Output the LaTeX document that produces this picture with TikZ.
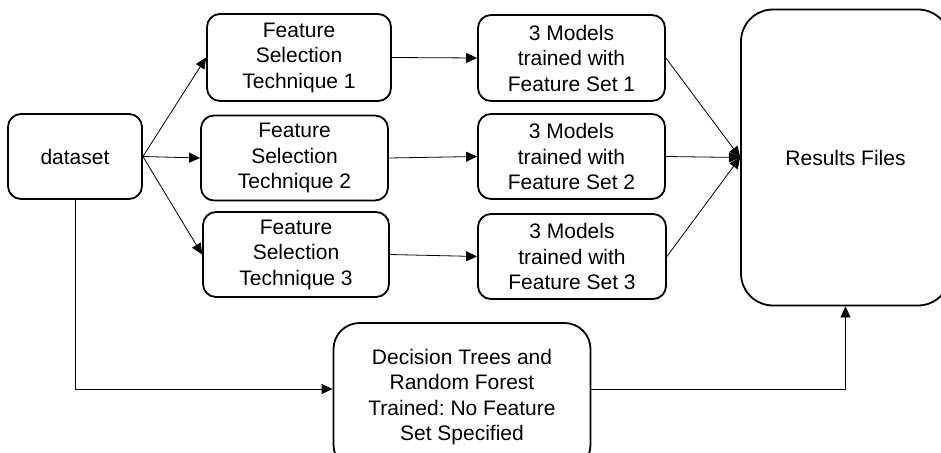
\documentclass[tikz,border=0pt]{standalone}
\usepackage{fontspec}
\setmainfont{Liberation Sans}
\usetikzlibrary{arrows.meta}
\frenchspacing

\begin{document}
\begin{tikzpicture}[line cap=round,line join=round,x=1pt,y=-1pt,
	box/.style={draw=black,line width=1.8pt,rounded corners=13pt,align=center,inner sep=0pt,font=\fontsize{21}{25.5}\selectfont},
	link/.style={line width=0.8pt,-{Triangle[length=11pt,width=10pt]}}]
	\useasboundingbox (0,0) rectangle (941,452);
	\node[box,minimum width=134pt,minimum height=85pt] (data) at (75,156.5) {dataset};
	\node[box,minimum width=184pt,minimum height=87pt] (fs1) at (299,57.5) {Feature\\Selection\\Technique 1};
	\node[box,minimum width=187pt,minimum height=85pt] (fs2) at (294.5,158) {Feature\\Selection\\Technique 2};
	\node[box,minimum width=186pt,minimum height=85pt] (fs3) at (296,254.5) {Feature\\Selection\\Technique 3};
	\node[box,minimum width=187pt,minimum height=86pt] (ms1) at (571.5,58) {3 Models\\trained with\\Feature Set 1};
	\node[box,minimum width=187pt,minimum height=85pt] (ms2) at (571.5,156.5) {3 Models\\trained with\\Feature Set 2};
	\node[box,minimum width=188pt,minimum height=85pt] (ms3) at (572,256.5) {3 Models\\trained with\\Feature Set 3};
	\node[box,rounded corners=32pt,minimum width=209pt,minimum height=296pt] (res) at (845.5,157.5) {Results Files};
	\node[box,rounded corners=26pt,minimum width=257pt,minimum height=148pt] (dt) at (462,397) {Decision Trees and\\Random Forest\\Trained: No Feature\\Set Specified};
	\draw[link] (data.east) -- (fs1.west);
	\draw[link] (data.east) -- (fs2.west);
	\draw[link] (data.east) -- (fs3.west);
	\draw[link] (fs1.east) -- (ms1.west);
	\draw[link] (fs2.east) -- (ms2.west);
	\draw[link] (fs3.east) -- (ms3.west);
	\draw[link] (ms1.east) -- (res.west);
	\draw[link] (ms2.east) -- (res.west);
	\draw[link] (ms3.east) -- (res.west);
	\draw[link] (data.south) |- ([yshift=8pt]dt.west);
	\draw[link] ([yshift=8pt]dt.east) -| (res.south);
\end{tikzpicture}
\end{document}
